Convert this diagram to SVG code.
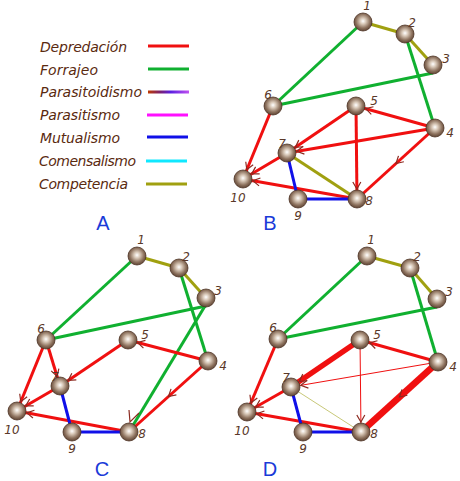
<svg xmlns="http://www.w3.org/2000/svg" width="460" height="481" viewBox="0 0 460 481">
<defs>
<radialGradient id="ball" cx="0.5" cy="0.45" r="0.55">
<stop offset="0" stop-color="#ffffff"/>
<stop offset="0.3" stop-color="#d8c8b8"/>
<stop offset="0.7" stop-color="#8e735f"/>
<stop offset="1" stop-color="#5e4434"/>
</radialGradient>
<linearGradient id="pgrad" gradientUnits="userSpaceOnUse" x1="148" y1="0" x2="189" y2="0">
<stop offset="0" stop-color="#c03a00"/>
<stop offset="0.3" stop-color="#7a2070"/>
<stop offset="0.55" stop-color="#5a20e0"/>
<stop offset="1" stop-color="#c050f0"/>
</linearGradient>
<marker id="ah" markerUnits="userSpaceOnUse" orient="auto" refX="10" refY="0" markerWidth="20" markerHeight="20" overflow="visible">
<path d="M-7,-4 L0,0 L-7,4" fill="none" stroke="#8b2a20" stroke-width="1.2"/>
</marker>
<marker id="am" markerUnits="userSpaceOnUse" orient="auto" refX="0" refY="0" markerWidth="20" markerHeight="20" overflow="visible">
<path d="M-7,-4 L0,0 L-7,4" fill="none" stroke="#8b2a20" stroke-width="1.2"/>
</marker>
</defs>
<style>
.n{fill:url(#ball);stroke:#4e3424;stroke-width:0.8}
.lab{font-family:"DejaVu Sans",sans-serif;font-style:italic;font-size:12px;fill:#5a3828;text-anchor:middle}
.leg{font-family:"DejaVu Sans",sans-serif;font-style:italic;font-size:14px;fill:#5a2a10}
.pl{font-family:"Liberation Sans",Arial,sans-serif;font-size:20px;fill:#1a3ad8;text-anchor:middle}
.r{stroke:#f01010;stroke-width:3;fill:none}
.g{stroke:#10b030;stroke-width:3;fill:none}
.b{stroke:#1010e8;stroke-width:3;fill:none}
.o{stroke:#a0a010;stroke-width:3;fill:none}
.a{marker-end:url(#ah)}
.m{marker-mid:url(#am)}
</style>

<g id="legend">
<text class="leg" x="40" y="52" textLength="87" lengthAdjust="spacing">Depredación</text>
<text class="leg" x="40" y="75" textLength="58" lengthAdjust="spacing">Forrajeo</text>
<text class="leg" x="40" y="97" textLength="102" lengthAdjust="spacing">Parasitoidismo</text>
<text class="leg" x="40" y="120" textLength="80" lengthAdjust="spacing">Parasitismo</text>
<text class="leg" x="40" y="143" textLength="80" lengthAdjust="spacing">Mutualismo</text>
<text class="leg" x="39" y="166" textLength="97" lengthAdjust="spacing">Comensalismo</text>
<text class="leg" x="39" y="189" textLength="89" lengthAdjust="spacing">Competencia</text>
<line x1="148" y1="46" x2="189" y2="46" stroke="#f01010" stroke-width="3"/>
<line x1="148" y1="69" x2="189" y2="69" stroke="#10b030" stroke-width="3"/>
<line x1="148" y1="92" x2="189" y2="92" stroke="url(#pgrad)" stroke-width="3"/>
<line x1="147" y1="115" x2="188" y2="115" stroke="#ff10ff" stroke-width="3"/>
<line x1="147" y1="137" x2="188" y2="137" stroke="#1010e8" stroke-width="3"/>
<line x1="146" y1="161" x2="187" y2="161" stroke="#10e8ff" stroke-width="3"/>
<line x1="146" y1="184" x2="187" y2="184" stroke="#a0a010" stroke-width="3"/>
</g>

<g id="panel-labels">
<text class="pl" x="103" y="230">A</text>
<text class="pl" x="270" y="230">B</text>
<text class="pl" x="102" y="476">C</text>
<text class="pl" x="270" y="476">D</text>
</g>

<g id="connectors">
<!-- B -->
<line class="o" x1="363" y1="22" x2="405" y2="34"/>
<line class="o" x1="405" y1="34" x2="433" y2="65"/>
<line class="g" x1="363" y1="22" x2="273" y2="106"/>
<line class="g" x1="433" y1="73" x2="273" y2="106"/>
<line class="g" x1="405" y1="34" x2="435" y2="128"/>
<line class="r a" x1="273" y1="106" x2="243" y2="179"/>
<line class="r a" x1="356" y1="106" x2="287" y2="153"/>
<line class="r a" x1="435" y1="128" x2="287" y2="153"/>
<line class="r a" x1="435" y1="128" x2="356" y2="106"/>
<line class="r a" x1="356" y1="106" x2="357" y2="199"/>
<path class="r m" d="M435,128 L396,163.5 L357,199"/>
<line class="r a" x1="287" y1="153" x2="243" y2="179"/>
<line class="r a" x1="357" y1="199" x2="243" y2="179"/>
<line class="o" x1="287" y1="153" x2="357" y2="199"/>
<line class="b" x1="287" y1="153" x2="298" y2="199"/>
<line class="b" x1="298" y1="199" x2="357" y2="199"/>
<!-- C -->
<line class="o" x1="137" y1="256" x2="179" y2="268"/>
<line class="o" x1="179" y1="268" x2="206" y2="298"/>
<line class="g" x1="137" y1="256" x2="46" y2="340"/>
<line class="g" x1="206" y1="306" x2="46" y2="340"/>
<line class="g" x1="179" y1="268" x2="208" y2="361"/>
<line class="g" x1="205" y1="306" x2="129" y2="432"/>
<line class="r a" x1="46" y1="340" x2="17" y2="411"/>
<line class="r a" x1="46" y1="340" x2="60" y2="386"/>
<line class="r a" x1="128" y1="340" x2="60" y2="386"/>
<line class="r a" x1="208" y1="361" x2="128" y2="340"/>
<path class="r m" d="M208,361 L168.5,396.5 L129,432"/>
<line class="r a" x1="60" y1="386" x2="17" y2="411"/>
<line class="r a" x1="129" y1="432" x2="17" y2="411"/>
<line class="b" x1="60" y1="386" x2="72" y2="432"/>
<line class="b" x1="72" y1="432" x2="129" y2="432"/>
<path d="M129,410 L130,422 L139,413" fill="none" stroke="#8b2a20" stroke-width="1.2"/>
<!-- D -->
<line class="o" x1="367" y1="256" x2="410" y2="268"/>
<line class="o" x1="410" y1="268" x2="437" y2="299"/>
<line class="g" x1="367" y1="256" x2="278" y2="339"/>
<line class="g" x1="437" y1="307" x2="278" y2="339"/>
<line class="g" x1="410" y1="268" x2="438" y2="362"/>
<line class="r a" x1="278" y1="339" x2="247" y2="412"/>
<line class="r a" x1="360" y1="340" x2="291" y2="387" style="stroke-width:5.5"/>
<line class="r a" x1="438" y1="362" x2="291" y2="387" style="stroke-width:1"/>
<line class="r a" x1="438" y1="362" x2="360" y2="340"/>
<line class="r a" x1="360" y1="340" x2="361" y2="432" style="stroke-width:1"/>
<path class="r m" d="M438,362 L399.5,397 L361,432" style="stroke-width:6.5"/>
<line class="r a" x1="291" y1="387" x2="247" y2="412"/>
<line class="r a" x1="361" y1="432" x2="247" y2="412"/>
<line x1="291" y1="387" x2="361" y2="432" stroke="#c8c878" stroke-width="1"/>
<line class="b" x1="291" y1="387" x2="303" y2="432"/>
<line class="b" x1="303" y1="432" x2="361" y2="432"/>
</g>

<!-- B nodes -->
<g id="B1"><circle class="n" cx="363" cy="22" r="9"/><text class="lab" x="367" y="10">1</text></g>
<g id="B2"><circle class="n" cx="405" cy="34" r="9"/><text class="lab" x="412" y="27">2</text></g>
<g id="B3"><circle class="n" cx="433" cy="65" r="9"/><text class="lab" x="446" y="63">3</text></g>
<g id="B4"><circle class="n" cx="435" cy="128" r="9"/><text class="lab" x="450" y="137">4</text></g>
<g id="B5"><circle class="n" cx="356" cy="106" r="9"/><text class="lab" x="374" y="105">5</text></g>
<g id="B6"><circle class="n" cx="273" cy="106" r="9"/><text class="lab" x="268" y="99">6</text></g>
<g id="B7"><circle class="n" cx="287" cy="153" r="9"/><text class="lab" x="282" y="148">7</text></g>
<g id="B8"><circle class="n" cx="357" cy="199" r="9"/><text class="lab" x="369" y="205">8</text></g>
<g id="B9"><circle class="n" cx="298" cy="199" r="9"/><text class="lab" x="298" y="220">9</text></g>
<g id="B10"><circle class="n" cx="243" cy="179" r="9"/><text class="lab" x="238" y="202">10</text></g>

<!-- C nodes -->
<g id="C1"><circle class="n" cx="137" cy="256" r="9"/><text class="lab" x="141" y="244">1</text></g>
<g id="C2"><circle class="n" cx="179" cy="268" r="9"/><text class="lab" x="186" y="261">2</text></g>
<g id="C3"><circle class="n" cx="206" cy="298" r="9"/><text class="lab" x="218" y="295">3</text></g>
<g id="C4"><circle class="n" cx="208" cy="361" r="9"/><text class="lab" x="223" y="370">4</text></g>
<g id="C5"><circle class="n" cx="128" cy="340" r="9"/><text class="lab" x="145" y="339">5</text></g>
<g id="C6"><circle class="n" cx="46" cy="340" r="9"/><text class="lab" x="41" y="333">6</text></g>
<g id="C7"><circle class="n" cx="60" cy="386" r="9"/><text class="lab" x="55" y="381">7</text></g>
<g id="C8"><circle class="n" cx="129" cy="432" r="9"/><text class="lab" x="142" y="438">8</text></g>
<g id="C9"><circle class="n" cx="72" cy="432" r="9"/><text class="lab" x="72" y="453">9</text></g>
<g id="C10"><circle class="n" cx="17" cy="411" r="9"/><text class="lab" x="12" y="434">10</text></g>

<!-- D nodes -->
<g id="D1"><circle class="n" cx="367" cy="256" r="9"/><text class="lab" x="371" y="244">1</text></g>
<g id="D2"><circle class="n" cx="410" cy="268" r="9"/><text class="lab" x="417" y="261">2</text></g>
<g id="D3"><circle class="n" cx="437" cy="299" r="9"/><text class="lab" x="449" y="296">3</text></g>
<g id="D4"><circle class="n" cx="438" cy="362" r="9"/><text class="lab" x="453" y="371">4</text></g>
<g id="D5"><circle class="n" cx="360" cy="340" r="9"/><text class="lab" x="377" y="339">5</text></g>
<g id="D6"><circle class="n" cx="278" cy="339" r="9"/><text class="lab" x="273" y="332">6</text></g>
<g id="D7"><circle class="n" cx="291" cy="387" r="9"/><text class="lab" x="286" y="382">7</text></g>
<g id="D8"><circle class="n" cx="361" cy="432" r="9"/><text class="lab" x="374" y="438">8</text></g>
<g id="D9"><circle class="n" cx="303" cy="432" r="9"/><text class="lab" x="303" y="453">9</text></g>
<g id="D10"><circle class="n" cx="247" cy="412" r="9"/><text class="lab" x="242" y="435">10</text></g>
</svg>
